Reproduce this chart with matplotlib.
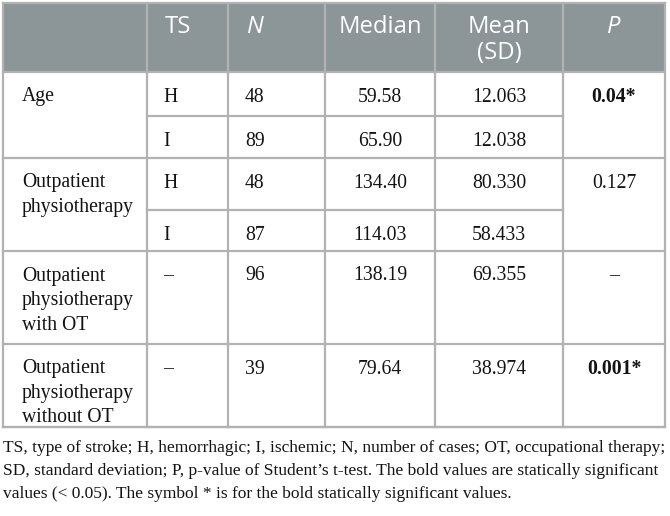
import matplotlib
matplotlib.use("Agg")
import matplotlib.pyplot as plt

# ---- data ----
headers = ["", "TS", "N", "Median", "Mean\n(SD)", "P"]
header_italic = [False, False, True, False, False, True]
group_labels = ["Age", "Outpatient\nphysiotherapy",
                "Outpatient\nphysiotherapy\nwith OT",
                "Outpatient\nphysiotherapy\nwithout OT"]
group_rows = [2, 2, 1, 1]          # number of sub-rows per group
ts = ["H", "I", "H", "I", "–", "–"]
n_cases = ["48", "89", "48", "87", "96", "39"]
median = ["59.58", "65.90", "134.40", "114.03", "138.19", "79.64"]
mean_sd = ["12.063", "12.038", "80.330", "58.433", "69.355", "38.974"]
p_values = ["0.04*", "0.127", "–", "0.001*"]
p_bold = [True, False, False, True]
caption = ["TS, type of stroke; H, hemorrhagic; I, ischemic; N, number of cases; OT, occupational therapy;",
           "SD, standard deviation; P, p-value of Student’s t-test. The bold values are statically significant",
           "values (< 0.05). The symbol * is for the bold statically significant values."]

# ---- layout (pixels) ----
W, H = 670, 516
col_x = [3, 147, 228, 325, 435, 563, 665]
header_top, header_bot = 3, 72
row_y = [72, 116, 158, 210, 251, 344, 427]   # sub-row boundaries
line_gap = 24.5
first_off = 25
hdr_bg = "#8c9598"
grid_c = "#b2b2b2"
txt_c = "#141213"
serif = "Liberation Serif"
sans = "Open Sans"
fs_body = 14.2
fs_head = 17.2

fig = plt.figure(figsize=(W / 100, H / 100), dpi=100)
ax = fig.add_axes([0, 0, 1, 1])
ax.set_xlim(0, W)
ax.set_ylim(H, 0)
ax.axis("off")

# header background
ax.fill_between([col_x[0], col_x[-1]], header_top, header_bot, color=hdr_bg, lw=0, zorder=0)

lw = 1.6
for x in col_x:
    ax.plot([x, x], [header_top, row_y[-1]], color=grid_c, lw=lw, zorder=2)
ax.plot([col_x[0], col_x[-1]], [header_top, header_top], color=grid_c, lw=lw, zorder=2)
ax.plot([col_x[0], col_x[-1]], [row_y[-1], row_y[-1]], color=grid_c, lw=lw, zorder=2)
ax.plot([col_x[0], col_x[-1]], [header_bot, header_bot], color=grid_c, lw=lw, zorder=2)

idx = 0
group_start = []
for g, nr in enumerate(group_rows):
    group_start.append(idx)
    for k in range(1, nr):
        y = row_y[idx + k]
        ax.plot([col_x[1], col_x[5]], [y, y], color=grid_c, lw=lw, zorder=2)
    idx += nr
    y = row_y[idx]
    ax.plot([col_x[0], col_x[-1]], [y, y], color=grid_c, lw=lw, zorder=2)

# header texts
hdr_first = 27
hdr_gap = 26
for c, h in enumerate(headers):
    if not h:
        continue
    for li, t in enumerate(h.split("\n")):
        y = hdr_first + li * hdr_gap
        style = "italic" if header_italic[c] else "normal"
        if c in (1, 2):
            ax.text(col_x[c] + 18, y, t, ha="left", va="center", color="white",
                    fontsize=fs_head, family=sans, style=style)
        else:
            ax.text((col_x[c] + col_x[c + 1]) / 2, y, t, ha="center", va="center",
                    color="white", fontsize=fs_head, family=sans, style=style)

def draw_lines(x, top, text, ha="left", weight="normal"):
    for li, t in enumerate(text.split("\n")):
        ax.text(x, top + first_off + li * line_gap, t, ha=ha, va="center", color=txt_c,
                fontsize=fs_body, family=serif, weight=weight)

for g, lab in enumerate(group_labels):
    top = row_y[group_start[g]]
    draw_lines(col_x[0] + 19, top, lab)
    draw_lines((col_x[5] + col_x[6]) / 2, top, p_values[g], ha="center",
               weight="bold" if p_bold[g] else "normal")

for r in range(len(ts)):
    top = row_y[r]
    draw_lines(col_x[1] + 16, top, ts[r])
    draw_lines(col_x[2] + 17, top, n_cases[r])
    draw_lines((col_x[3] + col_x[4]) / 2, top, median[r], ha="center")
    draw_lines((col_x[4] + col_x[5]) / 2, top, mean_sd[r], ha="center")

# caption: fit first line to the table width
cap_texts = []
for i, line in enumerate(caption):
    cap_texts.append(ax.text(3, 448 + i * 23, line, ha="left", va="center", color=txt_c,
                             fontsize=fs_body, family=serif))
fig.canvas.draw()
r = fig.canvas.get_renderer()
w0 = cap_texts[0].get_window_extent(r).width
fs_cap = fs_body * 661.0 / w0
for t in cap_texts:
    t.set_fontsize(fs_cap)

fig.savefig("out.png", dpi=100)
